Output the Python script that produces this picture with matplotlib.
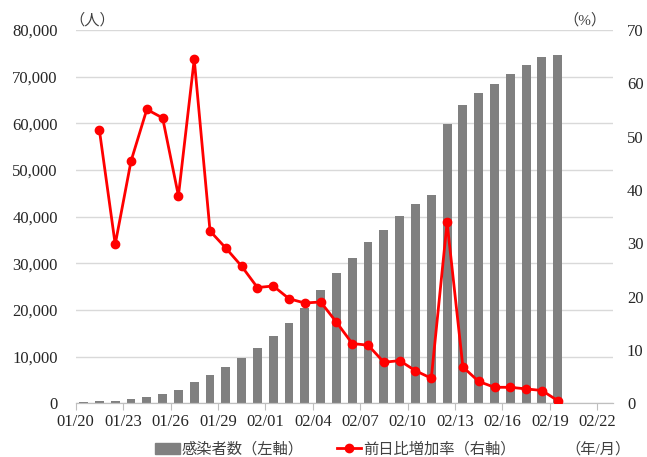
import numpy as np
import pandas as pd
import matplotlib
matplotlib.use("Agg")
import matplotlib.pyplot as plt
from matplotlib.lines import Line2D
from matplotlib.patches import Patch

plt.rcParams['font.family'] = ['Liberation Serif', 'Noto Sans CJK JP']

# 感染者数（累計）と前日比増加率
dates = pd.date_range("2020-01-20", "2020-02-19", freq="D")
cases = [291, 440, 571, 830, 1287, 1975, 2744, 4515, 5974, 7711,
         9692, 11791, 14380, 17205, 20438, 24324, 28018, 31161, 34546, 37198,
         40171, 42638, 44653, 59804, 63851, 66492, 68500, 70548, 72436, 74185,
         74576]
rate_dates = dates[1:]
rate = [51.2, 29.8, 45.4, 55.1, 53.5, 38.9, 64.5, 32.3, 29.1, 25.7,
        21.7, 22.0, 19.6, 18.8, 19.0, 15.2, 11.2, 10.9, 7.7, 8.0,
        6.1, 4.7, 33.9, 6.8, 4.1, 3.0, 3.0, 2.7, 2.4, 0.5]
tick_labels = ["01/20", "01/23", "01/26", "01/29", "02/01", "02/04",
               "02/07", "02/10", "02/13", "02/16", "02/19", "02/22"]

start = pd.Timestamp("2020-01-20")
x_bar = (dates - start).days + 0.5
x_rate = (rate_dates - start).days + 0.5

txt = "#262626"
fs = 12
fig = plt.figure(figsize=(6.47, 4.57), dpi=100)
ax = fig.add_axes([0.117, 0.1175, 0.8305, 0.817])
ax2 = ax.twinx()

ax.bar(x_bar, cases, width=0.56, color="#808080", zorder=2)
ax2.plot(x_rate, rate, color="#ff0000", lw=2, marker="o", ms=6, zorder=3)

ax.set_xlim(0, 34)
ax.set_ylim(0, 80000)
ax.set_yticks(np.arange(0, 80001, 10000))
ax.set_yticklabels([f"{v:,}" for v in range(0, 80001, 10000)])
ax2.set_ylim(0, 70)
ax2.set_yticks(np.arange(0, 71, 10))

ax.set_xticks(np.arange(0, 34, 3))
ax.set_xticklabels(tick_labels)

ax.grid(axis="y", color="#d9d9d9", lw=1, zorder=0)
ax.set_axisbelow(True)
for a in (ax, ax2):
    for s in ("top", "left", "right"):
        a.spines[s].set_visible(False)
    a.spines["bottom"].set_color("#bfbfbf")
ax.tick_params(axis="x", colors="#bfbfbf", labelcolor=txt, length=5, labelsize=fs, pad=3)
ax.tick_params(axis="y", length=0, labelcolor=txt, labelsize=fs, pad=13)
ax2.tick_params(axis="y", length=0, labelcolor=txt, labelsize=fs, pad=10)

fig.text(0.142, 0.956, "（人）", ha="center", va="center", fontsize=11, color="#404040")
fig.text(0.904, 0.956, "（%）", ha="center", va="center", fontsize=11, color="#404040")
fig.text(0.924, 0.017, "（年/月）", ha="center", va="center", fontsize=11, color="#404040")

handles = [Patch(color="#808080"),
           Line2D([], [], color="#ff0000", lw=2, marker="o", ms=6)]
fig.legend(handles, ["感染者数（左軸）", "前日比増加率（右軸）"], loc="center",
           bbox_to_anchor=(0.518, 0.017), ncol=2, frameon=False, fontsize=11,
           handlelength=1.6, handletextpad=0.1, columnspacing=2.2,
           labelcolor="#404040")

fig.savefig("out.png", dpi=100)
